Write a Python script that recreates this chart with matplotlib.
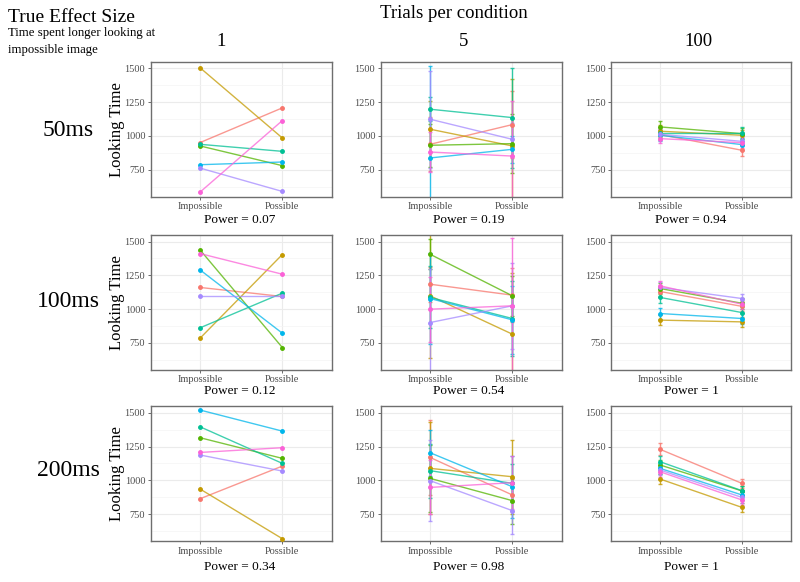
import matplotlib
matplotlib.use("Agg")
import matplotlib.pyplot as plt

plt.rcParams['font.family'] = ['Liberation Serif', 'DejaVu Serif']

# ggplot hue palette, 7 groups
colors = ['#F8766D', '#C49A00', '#53B400', '#00C094', '#00B6EB', '#A58AFF', '#FB61D7']

conditions = ['Impossible', 'Possible']
effects = ['50ms', '100ms', '200ms']
trials = ['1', '5', '100']
powers = [['0.07', '0.19', '0.94'],
          ['0.12', '0.54', '1'],
          ['0.34', '0.98', '1']]

# 1 trial per condition (no error bars)
t1_50_imp = [951, 1505, 926, 938, 787, 762, 584]
t1_50_pos = [1208, 985, 780, 886, 807, 589, 1114]
t1_100_imp = [1160, 784, 1438, 861, 1290, 1095, 1411]
t1_100_pos = [1093, 1404, 715, 1118, 821, 1095, 1258]
t1_200_imp = [863, 935, 1315, 1396, 1520, 1187, 1206]
t1_200_pos = [1105, 567, 1162, 1125, 1364, 1068, 1241]

# 5 trials per condition
t5_50_imp = [938, 1050, 931, 1198, 837, 1124, 881]
t5_50_pos = [1084, 926, 943, 1136, 901, 975, 851]
t5_50_imp_err = [200, 210, 160, 90, 680, 360, 150]
t5_50_pos_err = [246, 495, 220, 370, 100, 120, 410]
t5_100_imp = [1184, 1098, 1406, 1086, 1078, 900, 999]
t5_100_pos = [1103, 814, 1098, 930, 920, 1024, 1024]
t5_100_imp_err = [130, 460, 110, 230, 340, 400, 240]
t5_100_pos_err = [200, 450, 150, 280, 250, 320, 500]
t5_200_imp = [1169, 1088, 1014, 1071, 1204, 997, 947]
t5_200_pos = [891, 1026, 849, 977, 952, 775, 982]
t5_200_imp_err = [275, 340, 250, 200, 170, 300, 200]
t5_200_pos_err = [120, 275, 170, 140, 230, 175, 195]

# 100 trials per condition
t100_50_imp = [1010, 1035, 1067, 1025, 1005, 1012, 980]
t100_50_pos = [894, 1005, 1017, 1025, 936, 960, 950]
t100_50_imp_err = [40, 45, 43, 40, 40, 40, 35]
t100_50_pos_err = [40, 40, 40, 38, 40, 38, 40]
t100_100_imp = [1130, 918, 1152, 1086, 967, 1160, 1172]
t100_100_pos = [1020, 905, 1043, 974, 930, 1078, 1036]
t100_100_imp_err = [40, 38, 40, 38, 40, 40, 38]
t100_100_pos_err = [38, 35, 40, 38, 38, 35, 38]
t100_200_imp = [1229, 1009, 1113, 1137, 1088, 1076, 1063]
t100_200_pos = [977, 799, 921, 923, 891, 873, 854]
t100_200_imp_err = [45, 35, 40, 40, 40, 38, 38]
t100_200_pos_err = [35, 35, 38, 38, 38, 38, 35]

panels = [
    [(t1_50_imp, t1_50_pos, None, None),
     (t5_50_imp, t5_50_pos, t5_50_imp_err, t5_50_pos_err),
     (t100_50_imp, t100_50_pos, t100_50_imp_err, t100_50_pos_err)],
    [(t1_100_imp, t1_100_pos, None, None),
     (t5_100_imp, t5_100_pos, t5_100_imp_err, t5_100_pos_err),
     (t100_100_imp, t100_100_pos, t100_100_imp_err, t100_100_pos_err)],
    [(t1_200_imp, t1_200_pos, None, None),
     (t5_200_imp, t5_200_pos, t5_200_imp_err, t5_200_pos_err),
     (t100_200_imp, t100_200_pos, t100_200_imp_err, t100_200_pos_err)],
]

W, H = 800, 582
fig = plt.figure(figsize=(W / 100, H / 100), dpi=100)

col_left = [150.7, 380.7, 611]
col_w = [181, 181, 180]
row_top = [61.7, 234.8, 406]
row_h = 135
power_x = [240, 469, 691]
power_y = [220, 391, 567]

for r in range(3):
    for c in range(3):
        imp, pos, imp_err, pos_err = panels[r][c]
        ax = fig.add_axes([col_left[c] / W, 1 - (row_top[r] + row_h) / H,
                           col_w[c] / W, row_h / H])
        for g in range(len(imp)):
            col = colors[g]
            ax.plot([1, 2], [imp[g], pos[g]], color=col, lw=1, alpha=0.75, zorder=3)
            if imp_err is not None:
                ax.errorbar([1, 2], [imp[g], pos[g]], yerr=[imp_err[g], pos_err[g]],
                            fmt='none', ecolor=col, elinewidth=1, capsize=1.5,
                            alpha=0.8, zorder=2)
            ax.plot([1, 2], [imp[g], pos[g]], 'o', color=col, ms=2.5, zorder=4)
        ax.set_xlim(0.4, 2.6)
        ax.set_ylim(550, 1550)
        ax.set_xticks([1, 2])
        ax.set_xticklabels(conditions)
        ax.set_yticks([750, 1000, 1250, 1500])
        ax.set_yticks([625, 875, 1125, 1375], minor=True)
        ax.set_xticks([], minor=True)
        ax.grid(which='major', color='#EBEBEB', lw=0.8, zorder=0)
        ax.grid(which='minor', axis='y', color='#F4F4F4', lw=0.5, zorder=0)
        ax.set_axisbelow(True)
        ax.tick_params(which='major', labelsize=7.5, labelcolor='#4D4D4D',
                       color='#555555', length=2.5, width=0.6, pad=1.5)
        ax.tick_params(which='minor', length=0)
        for s in ax.spines.values():
            s.set_color('#6E6E6E')
            s.set_linewidth(1)
        fig.text(power_x[c] / W, 1 - power_y[r] / H, 'Power = ' + powers[r][c],
                 ha='center', va='center', fontsize=9.5)
    fig.text(117 / W, 1 - (row_top[r] + row_h / 2) / H, 'Looking Time',
             rotation=90, ha='center', va='center', fontsize=12)

row_label_y = [131, 301, 471]
for r in range(3):
    fig.text(68 / W, 1 - row_label_y[r] / H, effects[r], ha='center', va='center',
             fontsize=17)

col_title_x = [221, 464, 698]
for c in range(3):
    fig.text(col_title_x[c] / W, 1 - 42 / H, trials[c], ha='center', va='center',
             fontsize=13.5)

fig.text(454 / W, 1 - 14 / H, 'Trials per condition', ha='center', va='center',
         fontsize=13.5)
fig.text(8 / W, 1 - 17 / H, 'True Effect Size', ha='left', va='center', fontsize=14)
fig.text(8 / W, 1 - 33 / H, 'Time spent longer looking at', ha='left', va='center',
         fontsize=9.2)
fig.text(8 / W, 1 - 50 / H, 'impossible image', ha='left', va='center', fontsize=9.2)

fig.savefig('out.png', dpi=100, facecolor='white')
